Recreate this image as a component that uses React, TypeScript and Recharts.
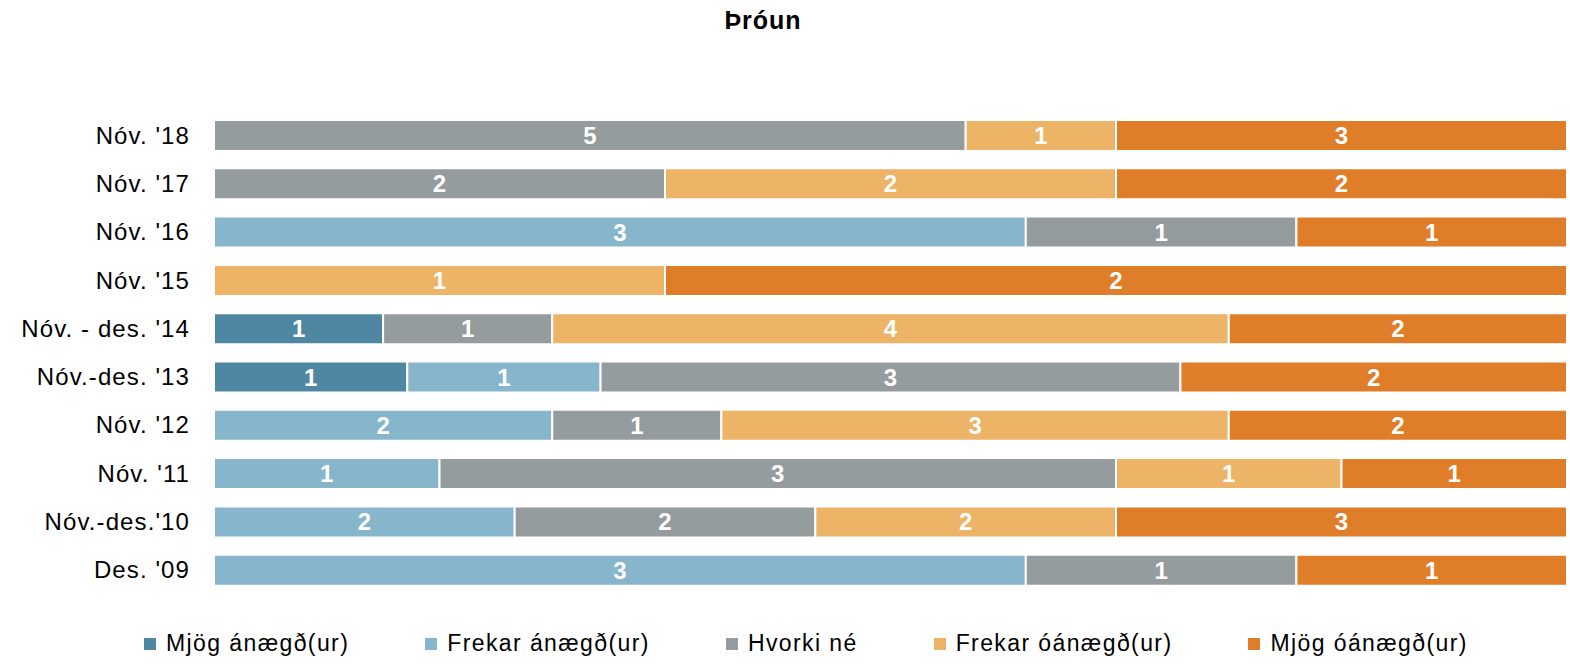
import React from 'react';
import { BarChart, Bar, XAxis, YAxis, LabelList } from 'recharts';

const categories = [
  "Nóv. '18",
  "Nóv. '17",
  "Nóv. '16",
  "Nóv. '15",
  "Nóv. - des. '14",
  "Nóv.-des. '13",
  "Nóv. '12",
  "Nóv. '11",
  "Nóv.-des.'10",
  "Des. '09",
];

const mjogAnaegd = [0, 0, 0, 0, 1, 1, 0, 0, 0, 0];
const frekarAnaegd = [0, 0, 3, 0, 0, 1, 2, 1, 2, 3];
const hvorkiNe = [5, 2, 1, 0, 1, 3, 1, 3, 2, 1];
const frekarOanaegd = [1, 2, 0, 1, 4, 0, 3, 1, 2, 0];
const mjogOanaegd = [3, 2, 1, 2, 2, 2, 2, 1, 3, 1];

const series = [
  { key: 'mjogAnaegd', name: 'Mjög ánægð(ur)', values: mjogAnaegd, color: '#4F87A2' },
  { key: 'frekarAnaegd', name: 'Frekar ánægð(ur)', values: frekarAnaegd, color: '#86B5CC' },
  { key: 'hvorkiNe', name: 'Hvorki né', values: hvorkiNe, color: '#959C9E' },
  { key: 'frekarOanaegd', name: 'Frekar óánægð(ur)', values: frekarOanaegd, color: '#EDB366' },
  { key: 'mjogOanaegd', name: 'Mjög óánægð(ur)', values: mjogOanaegd, color: '#E07D28' },
];

const data = categories.map((name, i) => {
  const row: Record<string, any> = { name };
  series.forEach((s) => {
    row[s.key] = s.values[i];
  });
  return row;
});

const font = '"Liberation Sans", Arial, sans-serif';

export default function App() {
  return (
    <div style={{ position: 'absolute', left: 0, top: 0, width: 1570, height: 664, background: '#fff', fontFamily: font }}>
      <div
        style={{
          position: 'absolute',
          top: 8,
          left: 0,
          width: 1526,
          textAlign: 'center',
          fontSize: 25,
          lineHeight: '25px',
          fontWeight: 'bold',
          letterSpacing: 1,
          color: '#000',
        }}
      >
        Þróun
      </div>
      <BarChart
        width={1570}
        height={600}
        data={data}
        layout="vertical"
        stackOffset="expand"
        margin={{ top: 111, right: 3, bottom: 6, left: 0 }}
      >
        <XAxis type="number" domain={[0, 1]} hide />
        <YAxis
          type="category"
          dataKey="name"
          width={214}
          axisLine={false}
          tickLine={false}
          tickSize={0}
          tickMargin={24}
          tick={{ fill: '#000', fontSize: 24, fontFamily: font, letterSpacing: 1.1 }}
          interval={0}
        />
        {series.map((s) => (
          <Bar
            key={s.key}
            dataKey={s.key}
            name={s.name}
            stackId="a"
            fill={s.color}
            stroke="#fff"
            strokeWidth={2}
            barSize={31}
            isAnimationActive={false}
          >
            <LabelList
              dataKey={s.key}
              position="center"
              fill="#fff"
              fontSize={24}
              fontWeight="bold"
              fontFamily={font}
              formatter={(v: any) => (v ? v : '')}
            />
          </Bar>
        ))}
      </BarChart>
      <div
        style={{
          position: 'absolute',
          top: 632,
          left: 144,
          display: 'flex',
          alignItems: 'center',
          gap: 76,
          fontSize: 23,
          lineHeight: '23px',
          letterSpacing: 1.4,
          color: '#000',
        }}
      >
        {series.map((s) => (
          <div key={s.key} style={{ display: 'flex', alignItems: 'center' }}>
            <span style={{ display: 'inline-block', width: 12, height: 12, background: s.color, marginRight: 10 }} />
            <span>{s.name}</span>
          </div>
        ))}
      </div>
    </div>
  );
}
